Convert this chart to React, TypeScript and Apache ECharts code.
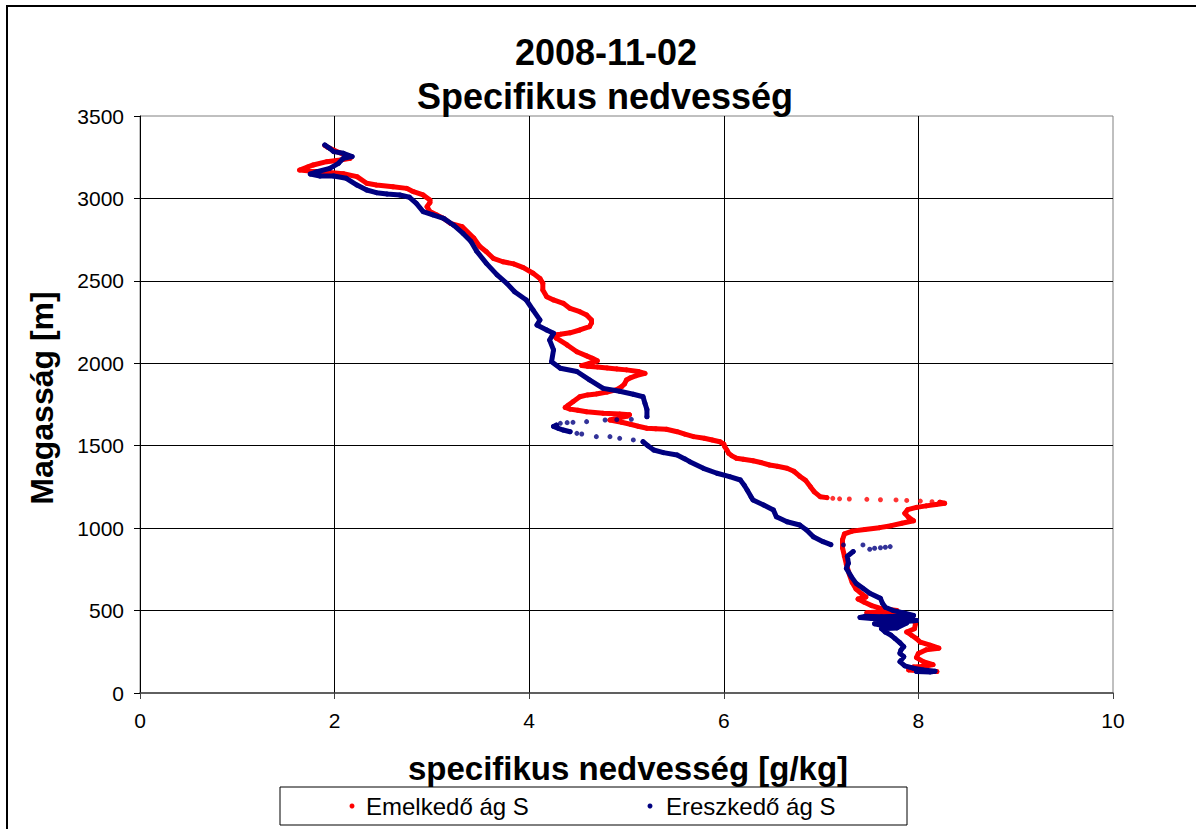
import React, { useEffect, useRef } from "react";
import * as echarts from "echarts";

const titleLine1 = "2008-11-02";
const titleLine2 = "Specifikus nedvesség";
const xAxisTitle = "specifikus nedvesség [g/kg]";
const yAxisTitle = "Magasság [m]";
const seriesNames = ["Emelkedő ág S", "Ereszkedő ág S"];
const xMin = 0, xMax = 10, xStep = 2;
const yMin = 0, yMax = 3500, yStep = 500;

// Emelkedő ág S (ascent) — dense trace, bottom to 1157 m
const redTrace1: number[][] = [
  [8.19,130],[8.05,133],[7.90,140],[7.95,158],[8.08,163],[8.15,172],[8.05,190],[7.98,215],[8.00,240],[8.08,262],
  [8.21,272],[8.12,290],[8.02,308],[7.98,330],[7.93,350],[7.88,370],[7.96,390],[7.97,420],[7.95,445],[7.90,465],
  [7.75,478],[7.60,484],[7.47,487],[7.62,493],[7.78,500],[7.62,512],[7.52,530],[7.44,552],[7.38,570],[7.46,582],
  [7.42,600],[7.36,630],[7.32,670],[7.29,720],[7.26,780],[7.24,830],[7.22,880],[7.22,930],[7.24,965],[7.32,982],
  [7.45,992],[7.60,1003],[7.72,1015],[7.83,1030],[7.95,1045],[7.90,1065],[7.86,1090],[7.89,1112],[7.98,1126],
  [8.08,1135],[8.18,1143],[8.27,1151],[8.22,1157]
];
// ascent — isolated dots near 1170 m
const redDots1: number[][] = [
  [8.14,1160],[8.02,1164],[7.88,1168],[7.77,1171],[7.61,1172],[7.47,1175],[7.29,1177],[7.19,1178],[7.12,1181]
];
// ascent — dense trace, 1185 m to top
const redTrace2: number[][] = [
  [7.06,1185],[6.99,1191],[6.93,1220],[6.89,1251],[6.84,1290],[6.78,1315],[6.72,1345],[6.65,1363],[6.55,1375],
  [6.47,1383],[6.38,1398],[6.30,1409],[6.20,1418],[6.13,1424],[6.08,1440],[6.05,1454],[6.03,1475],[6.01,1494],
  [6.00,1510],[5.96,1524],[5.88,1535],[5.80,1545],[5.69,1555],[5.60,1570],[5.52,1585],[5.41,1600],[5.30,1603],
  [5.21,1606],[5.12,1618],[5.04,1630],[4.95,1642],[4.83,1656],[4.92,1668],[5.01,1680],[5.03,1688],[4.93,1692],
  [4.76,1697],[4.59,1706],[4.50,1715],[4.42,1722],[4.37,1732],[4.40,1745],[4.45,1767],[4.52,1797],[4.60,1808],
  [4.69,1814],[4.80,1826],[4.90,1840],[4.95,1858],[4.98,1875],[5.00,1899],[5.04,1912],[5.10,1925],[5.19,1939],
  [5.12,1950],[5.00,1960],[4.90,1966],[4.80,1972],[4.70,1978],[4.60,1982],[4.54,1986],[4.62,2000],[4.70,2015],
  [4.65,2030],[4.59,2045],[4.49,2070],[4.39,2111],[4.28,2152],[4.25,2172],[4.32,2176],[4.42,2185],[4.52,2202],
  [4.62,2222],[4.64,2245],[4.64,2263],[4.59,2293],[4.52,2313],[4.42,2333],[4.35,2364],[4.25,2384],[4.18,2404],
  [4.14,2445],[4.14,2485],[4.11,2515],[4.04,2546],[3.94,2580],[3.84,2603],[3.73,2616],[3.63,2637],[3.56,2677],
  [3.49,2710],[3.43,2760],[3.31,2829],[3.19,2849],[3.12,2879],[3.05,2900],[2.98,2920],[2.95,2950],[2.98,2975],
  [2.98,2990],[2.91,3021],[2.81,3041],[2.74,3061],[2.60,3071],[2.43,3081],[2.33,3092],[2.23,3132],[2.09,3150],
  [1.95,3157],[1.80,3163],[1.64,3172],[1.72,3190],[1.78,3203],[1.92,3223],[2.06,3233],[2.16,3243],[2.10,3265],
  [2.00,3290],[1.93,3310],[1.90,3322]
];

// Ereszkedő ág S (descent) — dense trace, top to 1676 m
const blueTrace1: number[][] = [
  [1.90,3324],[1.95,3304],[1.99,3284],[2.09,3274],[2.18,3254],[2.09,3243],[2.04,3213],[1.95,3182],[1.82,3162],
  [1.75,3148],[1.85,3136],[1.99,3136],[2.12,3122],[2.23,3081],[2.33,3051],[2.43,3035],[2.54,3027],[2.67,3021],
  [2.77,3007],[2.84,2970],[2.91,2920],[3.01,2900],[3.12,2879],[3.22,2839],[3.32,2788],[3.40,2740],[3.46,2680],
  [3.56,2606],[3.67,2536],[3.77,2485],[3.85,2434],[3.97,2384],[4.04,2323],[4.11,2263],[4.08,2232],[4.18,2202],
  [4.25,2182],[4.21,2141],[4.25,2081],[4.23,2010],[4.32,1970],[4.49,1950],[4.62,1899],[4.76,1848],[4.93,1830],
  [5.07,1812],[5.17,1797],[5.19,1757],[5.21,1720],[5.21,1676]
];
// descent — isolated dots around 1550-1660 m
const blueDots1: number[][] = [
  [5.05,1660],[4.90,1658],[4.78,1656],[4.59,1646],[4.45,1642],[4.39,1640],[4.32,1636],
  [4.49,1575],[4.54,1571],[4.69,1555],[4.83,1555],[4.93,1545],[5.07,1535]
];
// descent — short dense tip near 1600 m
const blueTrace2: number[][] = [
  [4.28,1625],[4.25,1617],[4.30,1605],[4.35,1595],[4.42,1585]
];
// descent — dense trace, 1524 m to 900 m
const blueTrace3: number[][] = [
  [5.17,1524],[5.22,1500],[5.28,1474],[5.38,1458],[5.52,1444],[5.60,1420],[5.65,1403],[5.79,1363],[5.93,1333],
  [6.06,1312],[6.17,1292],[6.21,1260],[6.24,1231],[6.28,1190],[6.30,1171],[6.41,1140],[6.51,1110],[6.54,1069],
  [6.65,1039],[6.78,1019],[6.85,989],[6.92,948],[7.02,918],[7.10,900]
];
// descent — isolated dots near 880-900 m
const blueDots2: number[][] = [
  [7.23,898],[7.43,898],[7.50,872],[7.55,878],[7.61,881],[7.66,884],[7.71,888]
];
// descent — dense trace, 858 m to bottom
const blueTrace4: number[][] = [
  [7.33,858],[7.27,830],[7.28,787],[7.26,756],[7.31,706],[7.36,665],[7.43,635],[7.50,605],[7.61,574],[7.63,545],
  [7.66,520],[7.74,500],[7.85,485],[7.95,470],[7.80,465],[7.62,463],[7.45,465],[7.40,458],[7.52,452],[7.70,455],
  [7.88,450],[7.98,440],[7.85,432],[7.68,428],[7.55,420],[7.62,410],[7.75,415],[7.88,425],[7.78,395],[7.62,390],
  [7.66,370],[7.72,350],[7.76,330],[7.81,305],[7.85,281],[7.82,260],[7.81,241],[7.85,220],[7.81,190],[7.86,165],
  [7.95,150],[8.05,140],[8.17,132],[8.12,128],[7.98,131]
];

const RED = "#FF0000";
const BLUE = "#000080";
const FONT = "'Liberation Sans', Arial, Helvetica, sans-serif";

function traceSeries(name: string, data: number[][], color: string, z: number) {
  return {
    name,
    type: "line",
    data,
    z,
    showSymbol: true,
    symbol: "circle",
    symbolSize: 5,
    itemStyle: { color },
    lineStyle: { color, width: 5, cap: "round", join: "round" },
    emphasis: { disabled: true },
  };
}
function dotSeries(name: string, data: number[][], color: string, z: number) {
  return {
    name,
    type: "scatter",
    data,
    z,
    symbol: "circle",
    symbolSize: 5,
    itemStyle: { color },
    emphasis: { disabled: true },
  };
}

export default function App() {
  const ref = useRef<HTMLDivElement>(null);
  useEffect(() => {
    if (!ref.current) return;
    const chart = echarts.init(ref.current, null, { renderer: "svg" });
    const gridLeft = 140, gridTop = 116, gridW = 973, gridH = 577;
    chart.setOption({
      animation: false,
      backgroundColor: "#ffffff",
      grid: {
        left: gridLeft, top: gridTop, width: gridW, height: gridH,
        show: true, borderColor: "#808080", borderWidth: 1, backgroundColor: "transparent",
      },
      xAxis: {
        type: "value", min: xMin, max: xMax, interval: xStep,
        axisLine: { show: true, onZero: false, lineStyle: { color: "#404040", width: 1.5 } },
        axisTick: { show: true, inside: false, length: 6, lineStyle: { color: "#404040" } },
        axisLabel: { color: "#000", fontSize: 21, fontFamily: FONT, margin: 17, formatter: (v: number) => String(v) },
        splitLine: { show: true, showMinLine: false, showMaxLine: false, lineStyle: { color: "#000", width: 1 } },
      },
      yAxis: {
        type: "value", min: yMin, max: yMax, interval: yStep,
        axisLine: { show: true, onZero: false, lineStyle: { color: "#000", width: 1 } },
        axisTick: { show: true, inside: false, length: 6, lineStyle: { color: "#000" } },
        axisLabel: { color: "#000", fontSize: 21, fontFamily: FONT, margin: 16, formatter: (v: number) => String(v) },
        splitLine: { show: true, showMinLine: false, showMaxLine: false, lineStyle: { color: "#000", width: 1 } },
      },
      series: [
        traceSeries(seriesNames[0], redTrace1, RED, 2),
        dotSeries(seriesNames[0], redDots1, RED, 2),
        traceSeries(seriesNames[0], redTrace2, RED, 2),
        traceSeries(seriesNames[1], blueTrace1, BLUE, 3),
        dotSeries(seriesNames[1], blueDots1, BLUE, 3),
        traceSeries(seriesNames[1], blueTrace2, BLUE, 3),
        traceSeries(seriesNames[1], blueTrace3, BLUE, 3),
        dotSeries(seriesNames[1], blueDots2, BLUE, 3),
        traceSeries(seriesNames[1], blueTrace4, BLUE, 3),
      ],
      graphic: [
        { type: "rect", silent: true, z: 100, shape: { x: 7, y: 6, width: 1300, height: 900 },
          style: { fill: "none", stroke: "#000", lineWidth: 2 } },
        { type: "text", silent: true, x: 606, y: 52,
          style: { text: titleLine1, fill: "#000", font: `bold 36px ${FONT}`, textAlign: "center", textVerticalAlign: "middle" } },
        { type: "text", silent: true, x: 605, y: 96,
          style: { text: titleLine2, fill: "#000", font: `bold 36px ${FONT}`, textAlign: "center", textVerticalAlign: "middle" } },
        { type: "text", silent: true, x: 628, y: 768,
          style: { text: xAxisTitle, fill: "#000", font: `bold 33px ${FONT}`, textAlign: "center", textVerticalAlign: "middle" } },
        { type: "text", silent: true, x: 42, y: 398, rotation: Math.PI / 2,
          style: { text: yAxisTitle, fill: "#000", font: `bold 32px ${FONT}`, textAlign: "center", textVerticalAlign: "middle" } },
        { type: "rect", silent: true, shape: { x: 280, y: 787, width: 627, height: 38 },
          style: { fill: "#fff", stroke: "#000", lineWidth: 1 } },
        { type: "circle", silent: true, shape: { cx: 352, cy: 806, r: 2.5 }, style: { fill: RED } },
        { type: "text", silent: true, x: 366, y: 806,
          style: { text: seriesNames[0], fill: "#000", font: `24px ${FONT}`, textAlign: "left", textVerticalAlign: "middle" } },
        { type: "circle", silent: true, shape: { cx: 650, cy: 806, r: 2.5 }, style: { fill: BLUE } },
        { type: "text", silent: true, x: 666, y: 806,
          style: { text: seriesNames[1], fill: "#000", font: `24px ${FONT}`, textAlign: "left", textVerticalAlign: "middle" } },
      ],
    });
    return () => chart.dispose();
  }, []);
  return (
    <div
      ref={ref}
      style={{ position: "fixed", left: 0, top: 0, width: 1196, height: 829, background: "#fff" }}
    />
  );
}
